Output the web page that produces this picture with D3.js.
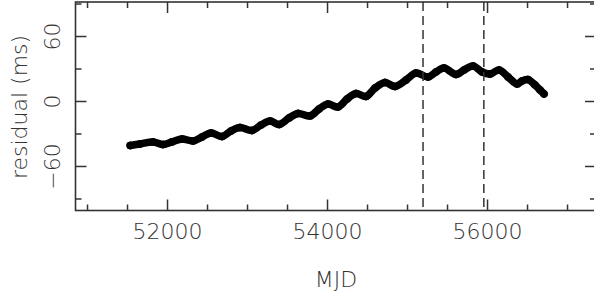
<!DOCTYPE html>
<html>
<head>
<meta charset="utf-8">
<script src="https://cdn.jsdelivr.net/npm/d3@7.9.0/dist/d3.min.js"></script>
<style>
  html, body { margin: 0; padding: 0; background: #fff; }
  svg text { font-family: "DejaVu Sans", sans-serif; font-weight: 200; fill: #333; }
</style>
</head>
<body>
<div id="chart"></div>
<script>
// timing residuals (MJD, ms)
const mjd = [51540, 51662, 51825, 51950, 52062, 52188, 52325, 52438, 52550, 52688,
  52800, 52912, 53062, 53175, 53288, 53400, 53525, 53638, 53788, 53900,
  54012, 54138, 54250, 54362, 54488, 54600, 54725, 54850, 54988, 55112,
  55262, 55362, 55462, 55612, 55712, 55825, 55938, 56038, 56150, 56262,
  56375, 56438, 56512, 56600, 56662, 56712];
const residual = [-41.1, -39.7, -37.8, -40.2, -37.8, -35.1, -36.9, -33.2, -29.5, -32.8,
  -27.7, -24.5, -27.2, -22.2, -18.5, -21.7, -15.7, -11.5, -13.8, -7.4,
  -2.8, -5.5, 1.8, 6.9, 4.2, 12.0, 17.1, 13.4, 19.4, 25.8,
  22.2, 26.8, 30.5, 24.5, 28.6, 32.3, 26.8, 24.9, 28.6, 22.2,
  15.7, 18.5, 19.8, 14.8, 10.2, 6.5];

// vertical markers
const markers = [55200, 55960];

const xMajor = [52000, 54000, 56000];
const xMinor = [51000, 51500, 52500, 53000, 53500, 54500, 55000, 55500, 56500, 57000];
const yMajor = [-60, 0, 60];
const yMinor = [-90, -30, 30, 90];

const W = 594, H = 292;
const pL = 75.5, pR = 596, pT = 2, pB = 210.5;

const x = d3.scaleLinear().domain([50856, 57362]).range([pL, pR]);
const y = d3.scaleLinear().domain([-101.1, 91.4]).range([pB, pT]);

const svg = d3.select('#chart').append('svg')
  .attr('width', W).attr('height', H);

const pts = mjd.map((d, i) => [d, residual[i]]);

// data band
svg.append('path')
  .datum(pts)
  .attr('fill', 'none')
  .attr('stroke', '#000')
  .attr('stroke-width', 7.5)
  .attr('stroke-linecap', 'round')
  .attr('stroke-linejoin', 'round')
  .attr('d', d3.line().x(d => x(d[0])).y(d => y(d[1])).curve(d3.curveCatmullRom));

svg.selectAll('circle.pt')
  .data(pts)
  .enter().append('circle')
  .attr('class', 'pt')
  .attr('cx', d => x(d[0]))
  .attr('cy', d => y(d[1]))
  .attr('r', 3.6)
  .attr('fill', 'none')
  .attr('stroke', '#000')
  .attr('stroke-width', 1);

// dashed lines
svg.selectAll('line.mk')
  .data(markers)
  .enter().append('line')
  .attr('class', 'mk')
  .attr('x1', d => x(d)).attr('x2', d => x(d))
  .attr('y1', pT).attr('y2', pB)
  .attr('stroke', '#333')
  .attr('stroke-width', 1.5)
  .attr('stroke-dasharray', '9,5');

// frame
svg.append('rect')
  .attr('x', pL).attr('y', pT)
  .attr('width', pR - pL).attr('height', pB - pT)
  .attr('fill', 'none')
  .attr('stroke', '#333')
  .attr('stroke-width', 1.6);

function styleAxis(g) {
  g.select('.domain').remove();
  g.selectAll('.tick line').attr('stroke', '#333').attr('stroke-width', 1.5);
}

const fmt = d3.format('d');

// bottom axis
const gb = svg.append('g').attr('transform', `translate(0,${pB})`)
  .call(d3.axisBottom(x).tickValues(xMajor).tickSize(-11).tickFormat(fmt))
  .call(styleAxis);
gb.selectAll('.tick text')
  .attr('y', 28.5).attr('dy', 0)
  .style('font-size', '22px');
svg.append('g').attr('transform', `translate(0,${pB})`)
  .call(d3.axisBottom(x).tickValues(xMinor).tickSize(-6).tickFormat(''))
  .call(styleAxis);

// top axis
svg.append('g').attr('transform', `translate(0,${pT})`)
  .call(d3.axisTop(x).tickValues(xMajor).tickSize(-11).tickFormat(''))
  .call(styleAxis);
svg.append('g').attr('transform', `translate(0,${pT})`)
  .call(d3.axisTop(x).tickValues(xMinor).tickSize(-6).tickFormat(''))
  .call(styleAxis);

// left axis
const gl = svg.append('g').attr('transform', `translate(${pL},0)`)
  .call(d3.axisLeft(y).tickValues(yMajor).tickSize(-11).tickFormat(fmt))
  .call(styleAxis);
gl.selectAll('.tick text')
  .attr('x', null).attr('dy', 0)
  .attr('text-anchor', 'middle')
  .attr('transform', 'translate(-15.5,0) rotate(-90)')
  .style('font-size', '22px');
svg.append('g').attr('transform', `translate(${pL},0)`)
  .call(d3.axisLeft(y).tickValues(yMinor).tickSize(-6).tickFormat(''))
  .call(styleAxis);

// right axis
svg.append('g').attr('transform', `translate(${pR},0)`)
  .call(d3.axisRight(y).tickValues(yMajor).tickSize(-11).tickFormat(''))
  .call(styleAxis);
svg.append('g').attr('transform', `translate(${pR},0)`)
  .call(d3.axisRight(y).tickValues(yMinor).tickSize(-6).tickFormat(''))
  .call(styleAxis);

// axis titles
svg.append('text')
  .attr('x', 336).attr('y', 287)
  .attr('text-anchor', 'middle')
  .style('font-size', '22px')
  .text('MJD');

svg.append('text')
  .attr('transform', 'translate(27,107) rotate(-90)')
  .attr('text-anchor', 'middle')
  .style('font-size', '22px')
  .text('residual (ms)');
</script>
</body>
</html>
